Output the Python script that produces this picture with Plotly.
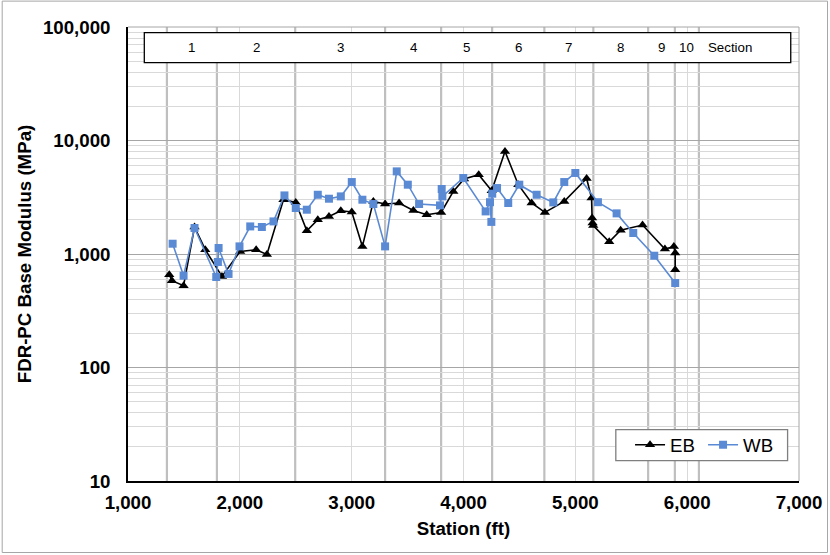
import plotly.graph_objects as go

# ---------------- data ----------------
eb_station = [1369, 1393, 1497, 1595, 1691, 1840, 2003, 2146, 2242, 2390, 2500, 2599, 2697, 2797,
              2903, 3001, 3096, 3194, 3299, 3424, 3552, 3671, 3800, 3909, 4005, 4136, 4252, 4371,
              4490, 4609, 4728, 4901, 5101, 5145, 5150, 5154, 5160, 5303, 5405, 5601, 5801, 5881,
              5893, 5893]
eb_modulus = [657, 582, 526, 1729, 1091, 635, 1054, 1091, 990, 3008, 2850, 1604, 2005, 2143,
              2406, 2344, 1167, 2905, 2756, 2813, 2421, 2219, 2320, 3562, 4580, 5000, 3600, 8017,
              4080, 2813, 2326, 2905, 4630, 3112, 2075, 1875, 1780, 1280, 1620, 1800, 1107, 1167,
              1020, 727]

wb_station = [1399, 1497, 1595, 1789, 1804, 1810, 1899, 1997, 2093, 2197, 2301, 2399, 2500, 2599,
              2697, 2797, 2903, 3001, 3096, 3194, 3299, 3403, 3502, 3603, 3790, 3805, 3811, 3998,
              4198, 4237, 4249, 4257, 4300, 4400, 4499, 4654, 4803, 4901, 5000, 5202, 5369, 5518,
              5706, 5893]
wb_modulus = [1232, 644, 1694, 627, 850, 1129, 667, 1167, 1750, 1729, 1937, 3282, 2542, 2456,
              3327, 3070, 3217, 4305, 3008, 2756, 1167, 5346, 4080, 2756, 2680, 3740, 3217, 4675,
              2373, 2860, 1918, 3400, 3811, 2813, 4080, 3327, 2850, 4305, 5175, 2860, 2280, 1531,
              966, 555]

section_bounds = [1348, 1795, 2495, 3299, 3800, 4256, 4723, 5161, 5651, 5890, 6105]
section_labels = ["1", "2", "3", "4", "5", "6", "7", "8", "9", "10"]

y_tickvals = [10, 100, 1000, 10000, 100000]
y_ticktext = ["10", "100", "1,000", "10,000", "100,000"]

FONT = "Arial, Liberation Sans, sans-serif"
BLUE = "#5B8AD4"
FS = 18.7

fig = go.Figure()
fig.add_trace(go.Scatter(x=eb_station, y=eb_modulus, name="EB", mode="lines+markers",
                         line=dict(color="black", width=1.6),
                         marker=dict(symbol="triangle-up", size=9, color="black")))
fig.add_trace(go.Scatter(x=wb_station, y=wb_modulus, name="WB", mode="lines+markers",
                         line=dict(color=BLUE, width=1.6),
                         marker=dict(symbol="square", size=8, color=BLUE)))

shapes = []
# section boundary lines
for b in section_bounds:
    shapes.append(dict(type="line", xref="x", yref="paper", x0=b, x1=b, y0=0, y1=1,
                       line=dict(color="#BFBFBF", width=2.2), layer="below"))
# section box
shapes.append(dict(type="rect", xref="paper", yref="paper", x0=0.0243, x1=0.9877,
                   y0=0.9214, y1=0.9875, fillcolor="white", line=dict(color="black", width=1.3),
                   layer="above"))
# legend box
shapes.append(dict(type="rect", xref="paper", yref="paper", x0=0.727, x1=0.983,
                   y0=0.0447, y1=0.113, fillcolor="white", line=dict(color="#7F7F7F", width=1.3),
                   layer="above"))
# plot area frame (top/right)
shapes.append(dict(type="line", xref="paper", yref="paper", x0=0, x1=1, y0=1, y1=1,
                   line=dict(color="#A6A6A6", width=1), layer="above"))
shapes.append(dict(type="line", xref="paper", yref="paper", x0=1, x1=1, y0=0, y1=1,
                   line=dict(color="#A6A6A6", width=1), layer="above"))
# outer chart border
shapes.append(dict(type="rect", xref="paper", yref="paper", x0=-0.1875, x1=1.0425,
                   y0=-0.1575, y1=1.057, line=dict(color="#A6A6A6", width=1), layer="above"))

annotations = []
for i, lab in enumerate(section_labels):
    c = (section_bounds[i] + section_bounds[i + 1]) / 2
    annotations.append(dict(x=c, y=0.9545, xref="x", yref="paper", text=lab, showarrow=False,
                            xanchor="center", yanchor="middle",
                            font=dict(family=FONT, size=13.3, color="black")))
annotations.append(dict(x=0.8975, y=0.9545, xref="paper", yref="paper", text="Section",
                        showarrow=False, xanchor="center", yanchor="middle",
                        font=dict(family=FONT, size=13.3, color="black")))

fig.update_layout(
    width=830, height=555,
    margin=dict(l=128, r=31, t=27, b=74, pad=0),
    paper_bgcolor="white", plot_bgcolor="white",
    font=dict(family=FONT, color="black"),
    shapes=shapes, annotations=annotations,
    showlegend=True,
    legend=dict(orientation="h", x=0.857, xanchor="center", y=0.079, yanchor="middle",
                borderwidth=0, bgcolor="rgba(0,0,0,0)", itemwidth=30,
                font=dict(family=FONT, size=FS, color="black"), entrywidth=28),
    xaxis=dict(range=[1000, 7000], dtick=1000, tickformat=",d", automargin=False,
               showgrid=True, gridcolor="#D9D9D9", gridwidth=1,
               showline=True, linecolor="black", linewidth=1.5,
               ticks="", ticklabelstandoff=4, zeroline=False,
               tickfont=dict(family=FONT, size=FS, color="black", weight="bold"),
               title=dict(text="<b>Station (ft)</b>", font=dict(family=FONT, size=FS), standoff=10)),
    yaxis=dict(type="log", range=[1, 5], tickvals=y_tickvals, ticktext=y_ticktext,
               automargin=False,
               showgrid=True, gridcolor="#A6A6A6", gridwidth=1.3,
               minor=dict(showgrid=True, dtick="D1", gridcolor="#D9D9D9", gridwidth=1, ticks=""),
               showline=True, linecolor="black", linewidth=1.5,
               ticks="", ticklabelstandoff=12, zeroline=False,
               tickfont=dict(family=FONT, size=FS, color="black", weight="bold"),
               title=dict(text="<b>FDR-PC Base Modulus (MPa)</b>", font=dict(family=FONT, size=FS),
                          standoff=6)),
)

fig.write_html("out.html", config={"displayModeBar": False},
               post_script="document.body.style.margin='0px';")
